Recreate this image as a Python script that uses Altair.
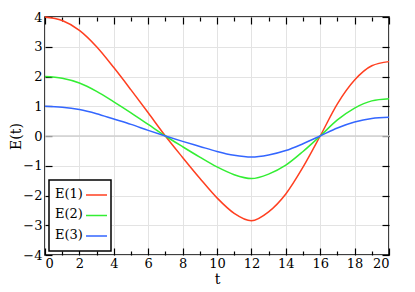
import altair as alt
import pandas as pd

# ---- data ----
t_vals = list(range(0, 21))
e1 = [4.00, 3.88, 3.55, 3.00, 2.30, 1.55, 0.78, 0.00, -0.72, -1.42, -2.08,
      -2.60, -2.85, -2.55, -1.95, -1.05, 0.00, 1.08, 1.88, 2.36, 2.50]
e2 = [2.00, 1.94, 1.78, 1.50, 1.15, 0.78, 0.39, 0.00, -0.36, -0.71, -1.04,
      -1.30, -1.43, -1.28, -0.98, -0.52, 0.00, 0.54, 0.94, 1.18, 1.25]
e3 = [1.00, 0.97, 0.89, 0.75, 0.57, 0.39, 0.19, 0.00, -0.18, -0.35, -0.52,
      -0.65, -0.71, -0.64, -0.49, -0.26, 0.00, 0.27, 0.47, 0.59, 0.63]
series = ["E(1)", "E(2)", "E(3)"]
colors = ["#ff3f20", "#33ee33", "#3366ff"]
x_major = [0, 2, 4, 6, 8, 10, 12, 14, 16, 18, 20]
x_minor = [1, 3, 5, 7, 9, 11, 13, 15, 17, 19]
y_major = [-4, -3, -2, -1, 0, 1, 2, 3, 4]

rows = []
for name, vals in zip(series, [e1, e2, e3]):
    for tv, v in zip(t_vals, vals):
        rows.append({"t": tv, "E": v, "series": name})
df = pd.DataFrame(rows)

W, H = 344, 238
FONT = "DejaVu Serif"

xs = alt.Scale(domain=[0, 20], nice=False)
ys = alt.Scale(domain=[-4, 4], nice=False)

color = alt.Color("series:N", scale=alt.Scale(domain=series, range=colors), legend=None)

lines = alt.Chart(df).mark_line(strokeWidth=1.5, interpolate="monotone").encode(
    x=alt.X("t:Q", scale=xs, axis=alt.Axis(orient="bottom", values=x_major, grid=True,
                                           ticks=False, tickSize=0, domain=False, title="t",
                                           labelPadding=2, titleX=W / 2, titleY=28,
                                           titleBaseline="alphabetic")),
    y=alt.Y("E:Q", scale=ys, axis=alt.Axis(orient="left", values=y_major, grid=True,
                                           ticks=False, tickSize=0, domain=False, title="E(t)",
                                           labelPadding=3, titleX=-24.5, titleY=H / 2,
                                           titleBaseline="alphabetic")),
    color=color,
)


def tick_layer(x_orient, y_orient, xvals, size):
    xa = alt.Axis(orient=x_orient, offset=-H, values=xvals, labels=False, domain=False,
                  grid=False, ticks=True, tickSize=size, title=None)
    if y_orient is not None:
        ya = alt.Axis(orient=y_orient, offset=-W, values=y_major, labels=False, domain=False,
                      grid=False, ticks=True, tickSize=7, title=None)
    else:
        ya = None
    return alt.Chart(df).mark_point(opacity=0).encode(
        x=alt.X("t:Q", scale=xs, axis=xa),
        y=alt.Y("E:Q", scale=ys, axis=ya),
    )


t1 = tick_layer("top", "right", x_major, 7)
t2 = tick_layer("bottom", "left", x_major, 7)
t3 = tick_layer("top", None, x_minor, 4)
t4 = tick_layer("bottom", None, x_minor, 4)

zero = alt.Chart(pd.DataFrame({"z": [0]})).mark_rule(color="#d0d0d0", strokeWidth=1.5).encode(
    y=alt.Y("z:Q", scale=ys, axis=None)
)

# legend (custom: label left of swatch)
legend_layers = [
    alt.Chart(pd.DataFrame({"s": ["box"]})).mark_rect(
        fill="white", stroke="black", strokeWidth=1.5
    ).encode(x=alt.value(4), x2=alt.value(66), y=alt.value(163), y2=alt.value(234))
]
for i, (name, col) in enumerate(zip(series, colors)):
    yy = 178 + 20.5 * i
    ldf = pd.DataFrame({"s": [name]})
    legend_layers.append(
        alt.Chart(ldf).mark_text(align="left", baseline="middle", font=FONT, fontSize=13,
                                 color="black").encode(
            x=alt.value(10), y=alt.value(yy - 1.5), text="s:N")
    )
    legend_layers.append(
        alt.Chart(ldf).mark_rule(color=col, strokeWidth=1.5).encode(
            x=alt.value(41), x2=alt.value(62), y=alt.value(yy))
    )

chart = alt.layer(zero, t1, t2, t3, t4, lines, *legend_layers).resolve_axis(
    x="independent", y="independent"
).properties(
    width=W, height=H,
    autosize=alt.AutoSizeParams(type="none"),
    padding={"left": 37, "top": 9, "right": 10, "bottom": 37},
).configure_axis(
    labelFont=FONT, labelFontSize=13, labelColor="black",
    titleFont=FONT, titleFontSize=14, titleFontWeight="normal", titleColor="black",
    gridColor="#e3e3e3", gridWidth=1, tickColor="black", tickWidth=1.2,
).configure_view(stroke="black", strokeWidth=1.5)

chart.save("out.html", embed_options={"renderer": "svg", "actions": False})
